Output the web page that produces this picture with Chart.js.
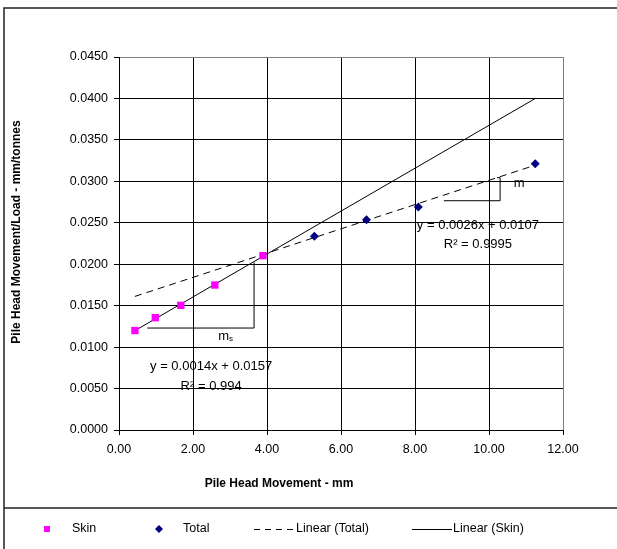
<!DOCTYPE html>
<html><head><meta charset="utf-8">
<script src="https://cdn.jsdelivr.net/npm/chart.js@4/dist/chart.umd.min.js"></script>
<style>html,body{margin:0;padding:0;background:#fff}#wrap{width:617px;height:549px;position:relative}canvas{display:block}</style>
</head><body><div id="wrap"><canvas id="c" width="617" height="549"></canvas></div>
<script>
// ---- data ----
const skinX  = [0.43, 0.98, 1.67, 2.59, 3.89];
const skinY  = [0.0120, 0.01355, 0.01504, 0.01749, 0.02103];
const totalX = [5.28, 6.69, 8.09, 11.25];
const totalY = [0.02337, 0.02537, 0.0269, 0.03213];
const xTicks = [0, 2, 4, 6, 8, 10, 12];
const yTicks = [0, 0.005, 0.010, 0.015, 0.020, 0.025, 0.030, 0.035, 0.040, 0.045];
const seriesNames = ['Skin', 'Total', 'Linear (Total)', 'Linear (Skin)'];
const xTitle = 'Pile Head Movement - mm';
const yTitle = 'Pile Head Movement/Load - mm/tonnes';
const eqLeft  = ['y = 0.0014x + 0.0157', 'R\u00B2 = 0.994'];
const eqRight = ['y = 0.0026x + 0.0107', 'R\u00B2 = 0.9995'];

const FONT = '"Liberation Sans", Arial, sans-serif';

function fit(xs, ys) {
  const n = xs.length;
  const mx = xs.reduce((a, b) => a + b, 0) / n;
  const my = ys.reduce((a, b) => a + b, 0) / n;
  let sxy = 0, sxx = 0;
  for (let i = 0; i < n; i++) { sxy += (xs[i] - mx) * (ys[i] - my); sxx += (xs[i] - mx) ** 2; }
  const m = sxy / sxx;
  return { m, b: my - m * mx };
}
const allX = skinX.concat(totalX);
const x0 = Math.min(...allX), x1 = Math.max(...allX);
const fSkin = fit(skinX, skinY);
const fTotal = fit(totalX, totalY);
const line = (f) => [{ x: x0, y: f.m * x0 + f.b }, { x: x1, y: f.m * x1 + f.b }];

const overlay = {
  id: 'overlay',
  afterDraw(chart) {
    const ctx = chart.ctx;
    const xs = chart.scales.x, ys = chart.scales.y;
    const px = v => xs.getPixelForValue(v), py = v => ys.getPixelForValue(v);
    ctx.save();
    // outer frame + legend separator
    ctx.strokeStyle = '#222'; ctx.lineWidth = 1.5;
    ctx.beginPath();
    ctx.moveTo(4, 549); ctx.lineTo(4, 8); ctx.lineTo(617, 8);
    ctx.moveTo(4, 508); ctx.lineTo(617, 508);
    ctx.stroke();

    // axis titles
    ctx.fillStyle = '#000';
    ctx.font = 'bold 12px ' + FONT;
    ctx.textAlign = 'center'; ctx.textBaseline = 'middle';
    ctx.fillText(xTitle, 279, 484);
    ctx.save(); ctx.translate(16.5, 232); ctx.rotate(-Math.PI / 2);
    ctx.fillText(yTitle, 0, 0); ctx.restore();

    // slope triangles
    ctx.strokeStyle = '#000'; ctx.lineWidth = 1;
    ctx.beginPath();
    ctx.moveTo(px(0.765), py(0.0123)); ctx.lineTo(px(3.65), py(0.0123)); ctx.lineTo(px(3.65), py(0.02023));
    ctx.moveTo(px(8.78), py(0.02766)); ctx.lineTo(px(10.30), py(0.02766)); ctx.lineTo(px(10.30), py(0.03044));
    ctx.lineTo(px(10.30) - 3, py(0.03044));
    ctx.stroke();

    // labels
    ctx.font = '13px ' + FONT;
    ctx.textAlign = 'center'; ctx.textBaseline = 'middle';
    ctx.fillStyle = '#000';
    ctx.fillText(eqLeft[0], px(2.49), py(0.00764));
    ctx.fillText(eqLeft[1], px(2.49), py(0.0053));
    ctx.fillText(eqRight[0], px(9.70), py(0.02465));
    ctx.fillText(eqRight[1], px(9.70), py(0.02244));
    ctx.textAlign = 'left';
    ctx.fillText('m', px(10.67), py(0.0297));
    const mx = px(2.68), my = py(0.0113);
    ctx.fillText('m', mx, my);
    const mw = ctx.measureText('m').width;
    ctx.font = '8px ' + FONT;
    ctx.fillText('s', mx + mw, my + 2);

    // legend
    const ly = 529;
    ctx.font = '12.5px ' + FONT;
    ctx.textBaseline = 'middle'; ctx.textAlign = 'left';
    ctx.fillStyle = '#FF00FF';
    ctx.fillRect(44, ly - 3, 6, 6);
    ctx.fillStyle = '#000';
    ctx.fillText(seriesNames[0], 72, ly);
    ctx.fillStyle = '#000080';
    ctx.beginPath();
    ctx.moveTo(159, ly - 4); ctx.lineTo(163, ly); ctx.lineTo(159, ly + 4); ctx.lineTo(155, ly); ctx.closePath(); ctx.fill();
    ctx.fillStyle = '#000';
    ctx.fillText(seriesNames[1], 183, ly);
    ctx.strokeStyle = '#000'; ctx.lineWidth = 1;
    ctx.setLineDash([6, 5]);
    ctx.beginPath(); ctx.moveTo(254, ly + 0.5); ctx.lineTo(294, ly + 0.5); ctx.stroke();
    ctx.setLineDash([]);
    ctx.fillText(seriesNames[2], 296, ly);
    ctx.beginPath(); ctx.moveTo(412, ly + 0.5); ctx.lineTo(452, ly + 0.5); ctx.stroke();
    ctx.fillText(seriesNames[3], 453, ly);
    ctx.restore();
  }
};

new Chart(document.getElementById('c'), {
  type: 'scatter',
  data: {
    datasets: [
      { label: seriesNames[3], type: 'line', data: line(fSkin), borderColor: '#000', borderWidth: 1,
        pointRadius: 0, fill: false, order: 3 },
      { label: seriesNames[2], type: 'line', data: line(fTotal), borderColor: '#000', borderWidth: 1,
        borderDash: [7, 5], pointRadius: 0, fill: false, order: 2 },
      { label: seriesNames[0], data: skinX.map((x, i) => ({ x, y: skinY[i] })), pointStyle: 'rect',
        pointRadius: 5.2, backgroundColor: '#FF00FF', borderColor: '#FF00FF', borderWidth: 0, order: 1 },
      { label: seriesNames[1], data: totalX.map((x, i) => ({ x, y: totalY[i] })), pointStyle: 'rectRot',
        pointRadius: 4.5, backgroundColor: '#000080', borderColor: '#000080', borderWidth: 0, order: 0 }
    ]
  },
  options: {
    responsive: false, animation: false, devicePixelRatio: 1,
    layout: { padding: { left: 0, top: 57, right: 54, bottom: 0 } },
    plugins: { legend: { display: false }, title: { display: false }, tooltip: { enabled: false } },
    scales: {
      x: {
        type: 'linear', min: 0, max: 12,
        afterBuildTicks: s => { s.ticks = xTicks.map(v => ({ value: v })); },
        afterFit: s => { s.height = 119; },
        ticks: { callback: v => v.toFixed(2), color: '#000', font: { family: FONT, size: 12.5 }, padding: 7, maxRotation: 0 },
        grid: { color: c => (c.index === xTicks.length - 1 ? '#808080' : '#000'), tickColor: '#000', tickLength: 5, lineWidth: 1 },
        border: { color: '#000', width: 1 }
      },
      y: {
        type: 'linear', min: 0, max: 0.045,
        afterBuildTicks: s => { s.ticks = yTicks.map(v => ({ value: v })); },
        afterFit: s => { s.width = 119; },
        ticks: { callback: v => v.toFixed(4), color: '#000', font: { family: FONT, size: 12.5 }, padding: 6 },
        grid: { color: c => (c.index === yTicks.length - 1 ? '#808080' : '#000'), tickColor: '#000', tickLength: 5, lineWidth: 1 },
        border: { color: '#000', width: 1 }
      }
    }
  },
  plugins: [overlay]
});
</script>
</body></html>
